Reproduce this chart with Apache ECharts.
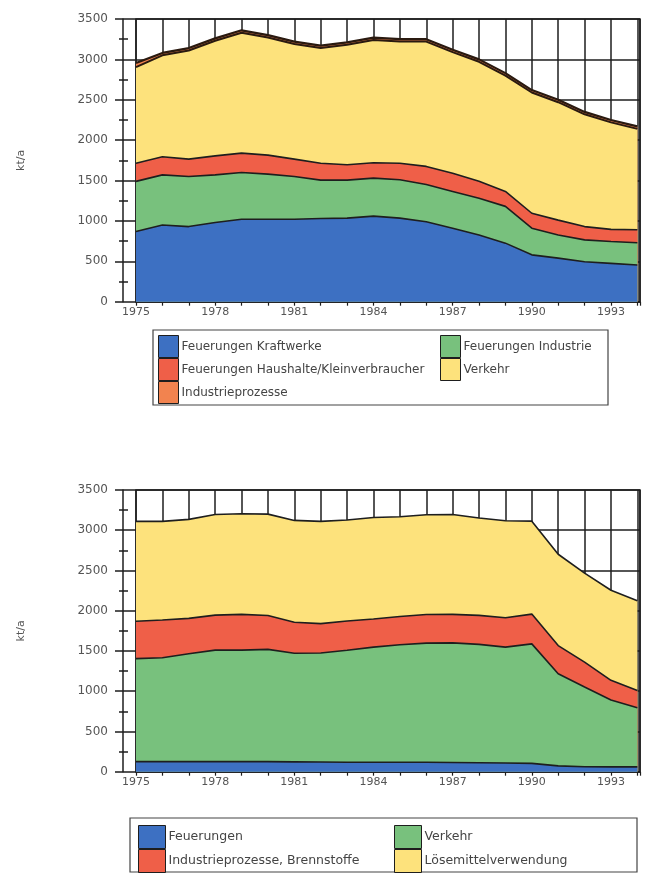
<!DOCTYPE html>
<html>
<head>
<meta charset="utf-8">
<script src="https://cdn.jsdelivr.net/npm/echarts@6/dist/echarts.min.js"></script>
<style>
  html, body { margin: 0; padding: 0; background: #fff; }
  #chart { width: 655px; height: 873px; }
</style>
</head>
<body>
<div id="chart"></div>
<script>
// Jahre der Zeitreihe
const years = [1975, 1976, 1977, 1978, 1979, 1980, 1981, 1982, 1983, 1984,
               1985, 1986, 1987, 1988, 1989, 1990, 1991, 1992, 1993, 1994];

// Oberes Diagramm (kt/a), von unten nach oben gestapelt
const feuerungenKraftwerke = [870, 950, 930, 980, 1020, 1020, 1020, 1030, 1035, 1060,
                              1035, 990, 910, 825, 725, 580, 540, 495, 475, 455];
const feuerungenIndustrie  = [620, 620, 620, 590, 580, 560, 530, 475, 470, 470,
                              475, 460, 455, 455, 455, 330, 285, 270, 270, 275];
const feuerungenHaushalte  = [225, 225, 215, 235, 240, 235, 215, 210, 190, 190,
                              205, 225, 225, 210, 185, 185, 185, 165, 150, 160];
const verkehrOben          = [1190, 1255, 1345, 1425, 1490, 1455, 1425, 1425, 1485, 1520,
                              1505, 1545, 1500, 1480, 1435, 1495, 1460, 1390, 1325, 1250];
const industrieprozesse    = [50, 30, 30, 30, 30, 30, 30, 30, 30, 30,
                              30, 30, 30, 30, 30, 30, 30, 30, 30, 30];

// Unteres Diagramm (kt/a), von unten nach oben gestapelt
const feuerungen           = [125, 125, 125, 125, 125, 125, 122, 120, 118, 118,
                              118, 118, 115, 112, 108, 103, 72, 62, 60, 60];
const verkehrUnten         = [1280, 1290, 1340, 1385, 1385, 1395, 1350, 1355, 1390, 1430,
                              1460, 1480, 1485, 1470, 1440, 1485, 1145, 990, 830, 735];
const prozesseBrennstoffe  = [465, 470, 440, 435, 445, 420, 385, 365, 365, 350,
                              350, 355, 355, 360, 365, 370, 350, 310, 245, 215];
const loesemittel          = [1240, 1225, 1230, 1250, 1250, 1260, 1265, 1270, 1255, 1260,
                              1240, 1240, 1240, 1210, 1205, 1155, 1135, 1105, 1120, 1115];

const yTicks = [0, 500, 1000, 1500, 2000, 2500, 3000, 3500];
const yUnit = 'kt/a';

const BLUE = '#3d70c2';
const GREEN = '#78c17d';
const RED = '#ef5f48';
const ORANGE = '#f2834f';
const YELLOW = '#fde27c';
const INK = '#1e1e1e';
const TEXT = '#555';
const FONT = 'DejaVu Sans';

// Schichten eines Diagramms aufsummieren (Unterkante = Summe der darunterliegenden)
function stackLayers(layers) {
  const run = years.map(() => 0);
  return layers.map(vals => vals.map((v, i) => (run[i] += v)));
}

// Jede Schicht als Fläche von 0 bis zu ihrer kumulierten Oberkante;
// die unteren Schichten liegen vorn (höheres z) und verdecken den Rest.
function layerSeries(defs, grid) {
  const tops = stackLayers(defs.map(d => d.vals));
  return defs.map((d, k) => ({
    name: d.name, type: 'line',
    xAxisIndex: grid, yAxisIndex: grid * 2,
    data: years.map((y, i) => [y, tops[k][i]]),
    showSymbol: false, symbol: 'none',
    z: 20 - k, color: d.color,
    itemStyle: { color: d.color },
    lineStyle: { color: d.edge || INK, width: d.lineWidth || 1.6 },
    areaStyle: { color: d.color, opacity: 1, origin: 'start' },
    emphasis: { disabled: true }
  }));
}

function xAxis(grid) {
  return {
    type: 'value', gridIndex: grid, min: 1975, max: 1994.1, interval: 1,
    axisLine: { show: true, lineStyle: { color: INK, width: 1.5 } },
    axisTick: { show: true, length: 4, lineStyle: { color: INK, width: 1.2 } },
    axisLabel: {
      margin: 5, fontSize: 11, color: TEXT, fontFamily: FONT,
      formatter: v => ((v - 1975) % 3 === 0 && v <= 1993) ? String(v) : ''
    },
    splitLine: { show: true, lineStyle: { color: INK, width: 1.5 } }
  };
}

function yAxes(grid) {
  return [{
    type: 'value', gridIndex: grid, position: 'left', min: 0, max: 3500, interval: 500, offset: 13,
    name: yUnit, nameLocation: 'middle', nameRotate: 90, nameGap: 96,
    nameTextStyle: { fontSize: 11, color: TEXT, fontFamily: FONT },
    axisLine: { show: true, lineStyle: { color: INK, width: 1.5 } },
    axisTick: { show: true, inside: true, length: 13, lineStyle: { color: INK, width: 1.5 } },
    minorTick: { show: true, splitNumber: 2, length: 5, lineStyle: { color: INK, width: 1.5 } },
    axisLabel: {
      margin: 15, fontSize: 12, color: TEXT, fontFamily: FONT,
      formatter: v => yTicks.includes(v) ? String(v) : ''
    },
    splitLine: { show: true, lineStyle: { color: INK, width: 1.5 } }
  }, {
    type: 'value', gridIndex: grid, position: 'left', min: 0, max: 3500, interval: 500, offset: 13,
    axisLine: { show: false },
    axisTick: { show: true, length: 8, lineStyle: { color: INK, width: 1.5 } },
    minorTick: { show: true, splitNumber: 2, length: 4, lineStyle: { color: INK, width: 1.5 } },
    axisLabel: { show: false },
    splitLine: { show: false }
  }];
}

function legendCol(left, top, w, h, size, items) {
  return {
    orient: 'vertical', left: left, top: top, itemGap: 0,
    itemWidth: w, itemHeight: h, icon: 'rect', selectedMode: false,
    padding: 0,
    textStyle: { fontSize: size, color: '#444', fontFamily: FONT, padding: [0, 0, 0, -2] },
    data: items.map(([name, color]) => ({ name: name, itemStyle: { color: color, borderColor: INK, borderWidth: 1 } }))
  };
}

const chart = echarts.init(document.getElementById('chart'), null, { renderer: 'canvas' });

chart.setOption({
  backgroundColor: '#fff',
  animation: false,
  grid: [
    { left: 136, right: 15, top: 19, height: 282.7, show: true, borderColor: INK, borderWidth: 1.5, backgroundColor: 'transparent' },
    { left: 136, right: 15, top: 490, height: 281.7, show: true, borderColor: INK, borderWidth: 1.5, backgroundColor: 'transparent' }
  ],
  xAxis: [xAxis(0), xAxis(1)],
  yAxis: [...yAxes(0), ...yAxes(1)],
  legend: [
    legendCol(158, 335, 20, 22, 12, [
      ['Feuerungen Kraftwerke', BLUE],
      ['Feuerungen Haushalte/Kleinverbraucher', RED],
      ['Industrieprozesse', ORANGE]
    ]),
    legendCol(440, 335, 20, 22, 12, [
      ['Feuerungen Industrie', GREEN],
      ['Verkehr', YELLOW]
    ]),
    legendCol(138, 825, 27, 23, 12.5, [
      ['Feuerungen', BLUE],
      ['Industrieprozesse, Brennstoffe', RED]
    ]),
    legendCol(394, 825, 27, 23, 12.5, [
      ['Verkehr', GREEN],
      ['Lösemittelverwendung', YELLOW]
    ])
  ],
  graphic: [
    { type: 'rect', shape: { x: 153, y: 330, width: 455, height: 75 },
      style: { fill: 'none', stroke: '#444', lineWidth: 1.2 }, z: -1 },
    { type: 'rect', shape: { x: 130, y: 818, width: 507, height: 54 },
      style: { fill: 'none', stroke: '#444', lineWidth: 1.2 }, z: -1 }
  ],
  series: [
    ...layerSeries([
      { name: 'Feuerungen Kraftwerke', vals: feuerungenKraftwerke, color: BLUE },
      { name: 'Feuerungen Industrie', vals: feuerungenIndustrie, color: GREEN },
      { name: 'Feuerungen Haushalte/Kleinverbraucher', vals: feuerungenHaushalte, color: RED },
      { name: 'Verkehr', vals: verkehrOben, color: YELLOW, edge: '#2a1a10', lineWidth: 2 },
      { name: 'Industrieprozesse', vals: industrieprozesse, color: ORANGE, edge: '#2a1a10', lineWidth: 2.2 }
    ], 0),
    ...layerSeries([
      { name: 'Feuerungen', vals: feuerungen, color: BLUE },
      { name: 'Verkehr', vals: verkehrUnten, color: GREEN },
      { name: 'Industrieprozesse, Brennstoffe', vals: prozesseBrennstoffe, color: RED },
      { name: 'Lösemittelverwendung', vals: loesemittel, color: YELLOW }
    ], 1)
  ]
});
</script>
</body>
</html>
